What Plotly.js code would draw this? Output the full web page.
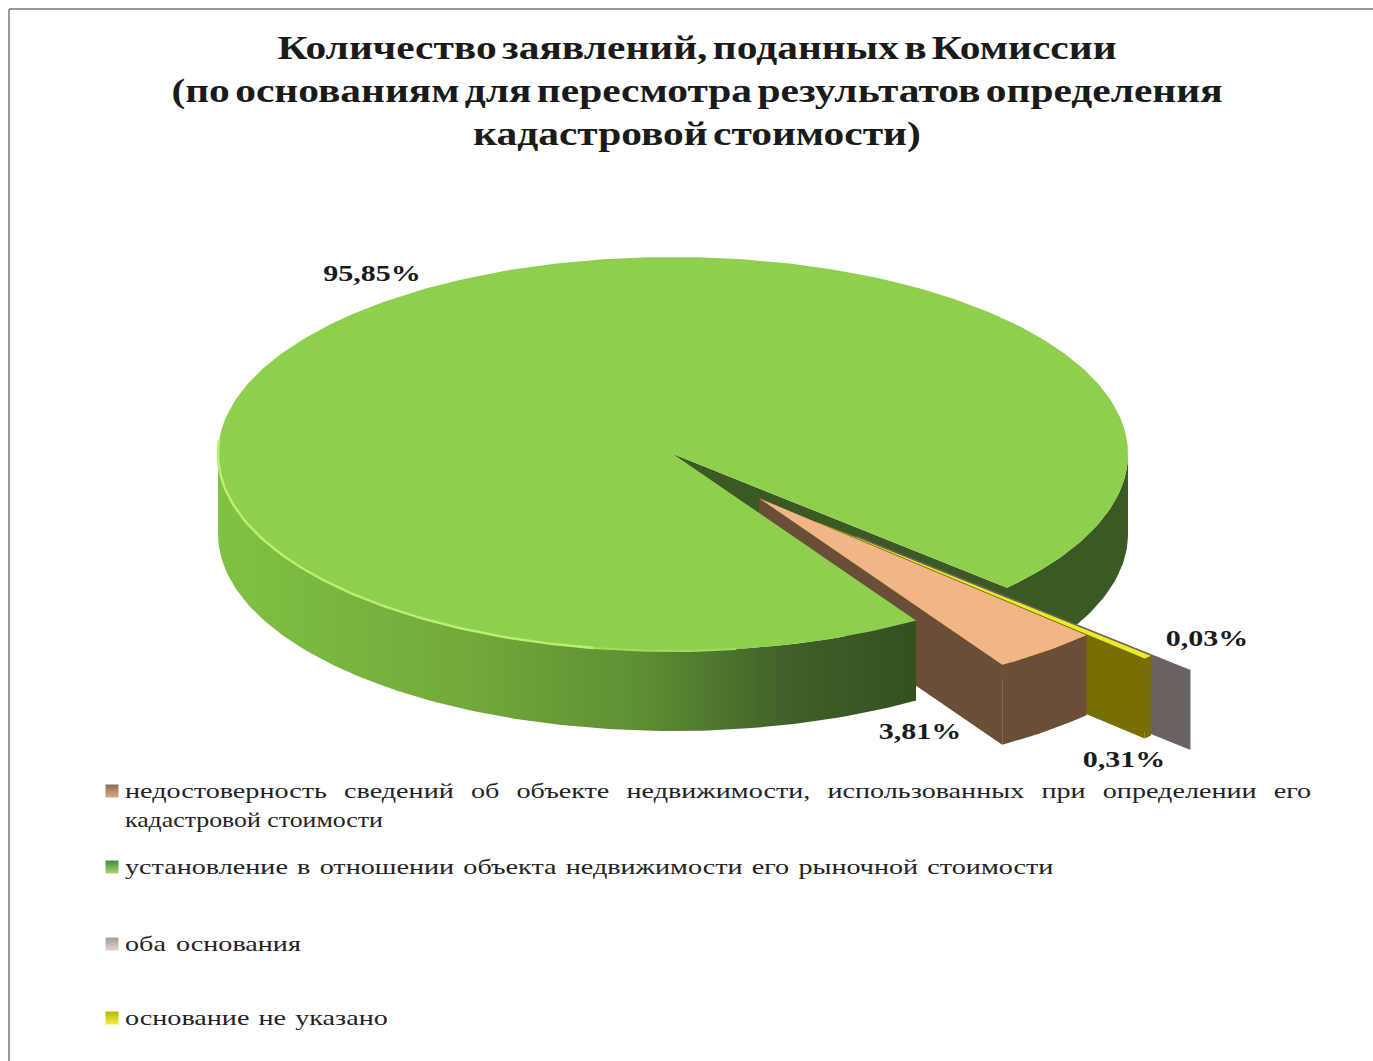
<!DOCTYPE html>
<html>
<head>
<meta charset="utf-8">
<script src="https://cdn.plot.ly/plotly-3.0.1.min.js"></script>
<style>
html,body{margin:0;padding:0;background:#fff;}
#chart{width:1373px;height:1061px;}
</style>
</head>
<body>
<div id="chart"></div>
<script>
// Applications by grounds for review, in percent (slices run clockwise in this order)
const categoryLines = [
  ["недостоверность сведений об объекте недвижимости, использованных при определении его", "кадастровой стоимости"],
  ["установление в отношении объекта недвижимости его рыночной стоимости"],
  ["оба основания"],
  ["основание не указано"]
];
const values = [3.81, 95.85, 0.03, 0.31];
const titleText = "Количество заявлений, поданных в Комиссии<br>(по основаниям для пересмотра результатов определения<br>кадастровой стоимости)";

// Pie geometry in page pixels; the hidden axes map one unit to one pixel
const cx = 673, cy = 454, rx = 455, ry = 197, depth = 80;
const firstAngle = 134;
const explodeX = [0.30, 0, 0.55, 0.437];
const explodeY = [0.29, 0, 0.61, 0.50];

const topColors  = ["#f2b586", "#8ecf4e", "#8a827c", "#ecec22"];
const wallColors = ["#6b4e38", "#3a5923", "#6a635f", "#777000"];
const keyColors  = ["#8f6a4e", "#3f8f45", "#a89c96", "#b8b800"];
const keyShades  = ["#d9ab86", "#a5d860", "#ddd2cc", "#f0f040"];

const labelSpots = [[920, 731], [372, 273], [1207, 638], [1124, 759]];
const keyX = 112, textX = 125;
const rowY = [[790, 819], [866], [943], [1017]];
const lineWidths = [[1187, 258], [929], [176], [263]];
const titleStretch = 1.257, labelStretch = 1.25, legendStretch = 1.28;
const titleWordGap = -4;
const titleCenter = 697;

const rad = d => d * Math.PI / 180;

// Normalise the values to clockwise angle ranges
const total = values.reduce((a, b) => a + b, 0);
let running = firstAngle;
const slices = values.map((v, i) => {
  const start = running;
  const end = start + v / total * 360;
  running = end;
  const mid = rad((start + end) / 2);
  return {
    start, end,
    ox: cx + rx * explodeX[i] * Math.sin(mid),
    oy: cy - ry * explodeY[i] * Math.cos(mid)
  };
});

function arc(s, a, b, drop) {
  const n = Math.max(2, Math.ceil(Math.abs(b - a)));
  const xs = [], ys = [];
  for (let k = 0; k <= n; k++) {
    const t = rad(a + (b - a) * k / n);
    xs.push(s.ox + rx * Math.sin(t));
    ys.push(s.oy - ry * Math.cos(t) + drop);
  }
  return [xs, ys];
}

function poly(xs, ys, color, extra) {
  return Object.assign({
    type: "scatter", mode: "lines", x: xs, y: ys,
    fill: "toself", fillcolor: color,
    line: {width: 0, color: color},
    hoverinfo: "skip", showlegend: false
  }, extra || {});
}

// Top surface of a slice
function topFace(i, a, b) {
  const s = slices[i];
  const [xs, ys] = arc(s, a, b, 0);
  return poly([s.ox, ...xs, s.ox], [s.oy, ...ys, s.oy], topColors[i]);
}
// Outer rim wall between two angles
function rimWall(i, a, b, extra) {
  const s = slices[i];
  const [x1, y1] = arc(s, a, b, 0);
  const [x2, y2] = arc(s, b, a, depth);
  return poly([...x1, ...x2, x1[0]], [...y1, ...y2, y1[0]], wallColors[i], extra);
}
// Flat cut wall running from the slice's axis to its rim
function cutWall(i, angle) {
  const s = slices[i];
  const ex = s.ox + rx * Math.sin(rad(angle));
  const ey = s.oy - ry * Math.cos(rad(angle));
  return poly([s.ox, ex, ex, s.ox, s.ox],
              [s.oy, ey, ey + depth, s.oy + depth, s.oy], wallColors[i]);
}
function rimLine(a, b, color, width) {
  const [xs, ys] = arc(slices[1], a, b, 0);
  return {
    type: "scatter", mode: "lines", x: xs, y: ys,
    line: {color, width}, hoverinfo: "skip", showlegend: false
  };
}

const green = slices[1], greenEnd = green.end - 360;
const traces = [];

// Back part of the large slice, seen through the gap
traces.push(cutWall(1, greenEnd));
traces.push(rimWall(1, 90, greenEnd));

// Pulled-out slices, farthest first
[2, 3, 0].forEach(i => {
  const s = slices[i];
  traces.push(cutWall(i, s.end));
  traces.push(rimWall(i, s.start, s.end));
  traces.push(topFace(i, s.start, s.end));
});

// Front wall of the large slice with its shading, then its top and rim light
traces.push(rimWall(1, green.start, 270, {
  fillgradient: {
    type: "horizontal",
    colorscale: [[0, "#7fc243"], [0.35, "#72aa3b"], [0.6, "#5f8f33"], [0.82, "#3f6028"], [1, "#33501f"]]
  }
}));
traces.push(topFace(1, green.start, green.end));
traces.push(rimLine(172, 192, "#a2dd60", 2));
traces.push(rimLine(190, 274, "#bdee74", 2.5));

// Legend keys
traces.push({
  type: "scatter", mode: "markers",
  x: rowY.map(() => keyX), y: rowY.map(r => r[0] + 1),
  marker: {
    symbol: "square", size: 13, color: keyColors,
    gradient: {type: "vertical", color: keyShades},
    line: {width: 0}
  },
  hoverinfo: "skip", showlegend: false
});

const annotations = [];
// Percentage labels
values.forEach((v, i) => annotations.push({
  x: labelSpots[i][0], y: labelSpots[i][1], xref: "x", yref: "y",
  text: v.toFixed(2).replace(".", ",") + "%", showarrow: false,
  xanchor: "center", yanchor: "middle",
  font: {family: "Liberation Serif", size: 24, color: "#1a1a1a", weight: 700}
}));
// Legend text
categoryLines.forEach((lines, i) => lines.forEach((line, j) => annotations.push({
  x: textX, y: rowY[i][j], xref: "x", yref: "y",
  text: line, showarrow: false, align: "left",
  xanchor: "left", yanchor: "middle", xshift: -2,
  font: {family: "Liberation Serif", size: 22, color: "#222222"}
})));

const hiddenAxis = range => ({range, visible: false, fixedrange: true});

const layout = {
  width: 1373, height: 1061,
  margin: {l: 0, r: 0, t: 0, b: 0},
  paper_bgcolor: "#ffffff", plot_bgcolor: "#ffffff",
  xaxis: hiddenAxis([0, 1373]),
  yaxis: hiddenAxis([1061, 0]),
  title: {
    text: titleText, x: titleCenter / 1373, xanchor: "center",
    y: 1 - 59 / 1061, yanchor: "top", yref: "container",
    font: {family: "Liberation Serif", size: 33, color: "#1a1a1a", weight: 700}
  },
  annotations,
  shapes: [
    {type: "line", xref: "x", yref: "y", x0: 9, x1: 1373, y0: 9, y1: 9, line: {color: "#999999", width: 2}},
    {type: "line", xref: "x", yref: "y", x0: 9, x1: 9, y0: 9, y1: 1061, line: {color: "#999999", width: 2}}
  ]
};

// Widen text horizontally about a fixed x position
function widen(el, factor, about) {
  el.setAttribute("transform", `translate(${about} 0) scale(${factor} 1) translate(${-about} 0)`);
}

Plotly.newPlot("chart", traces, layout, {displayModeBar: false, staticPlot: true}).then(gd => {
  const title = gd.querySelector(".gtitle");
  if (title) {
    title.style.wordSpacing = titleWordGap + "px";
    const b = title.getBBox();
    widen(title, titleStretch, b.x + b.width / 2);
  }
  const wanted = {};
  categoryLines.forEach((lines, i) => lines.forEach((line, j) => { wanted[line] = lineWidths[i][j]; }));
  gd.querySelectorAll(".annotation-text").forEach(t => {
    const b = t.getBBox();
    const w = wanted[t.textContent];
    if (!w) {
      widen(t, labelStretch, b.x + b.width / 2);
      return;
    }
    // Legend lines: wide glyphs first, leftover width goes into the word gaps
    const natural = t.getComputedTextLength();
    const factor = Math.min(w / natural, legendStretch);
    const gaps = t.textContent.split(" ").length - 1;
    if (gaps) t.style.wordSpacing = (w / factor - natural) / gaps + "px";
    widen(t, factor, b.x);
  });
});
</script>
</body>
</html>
